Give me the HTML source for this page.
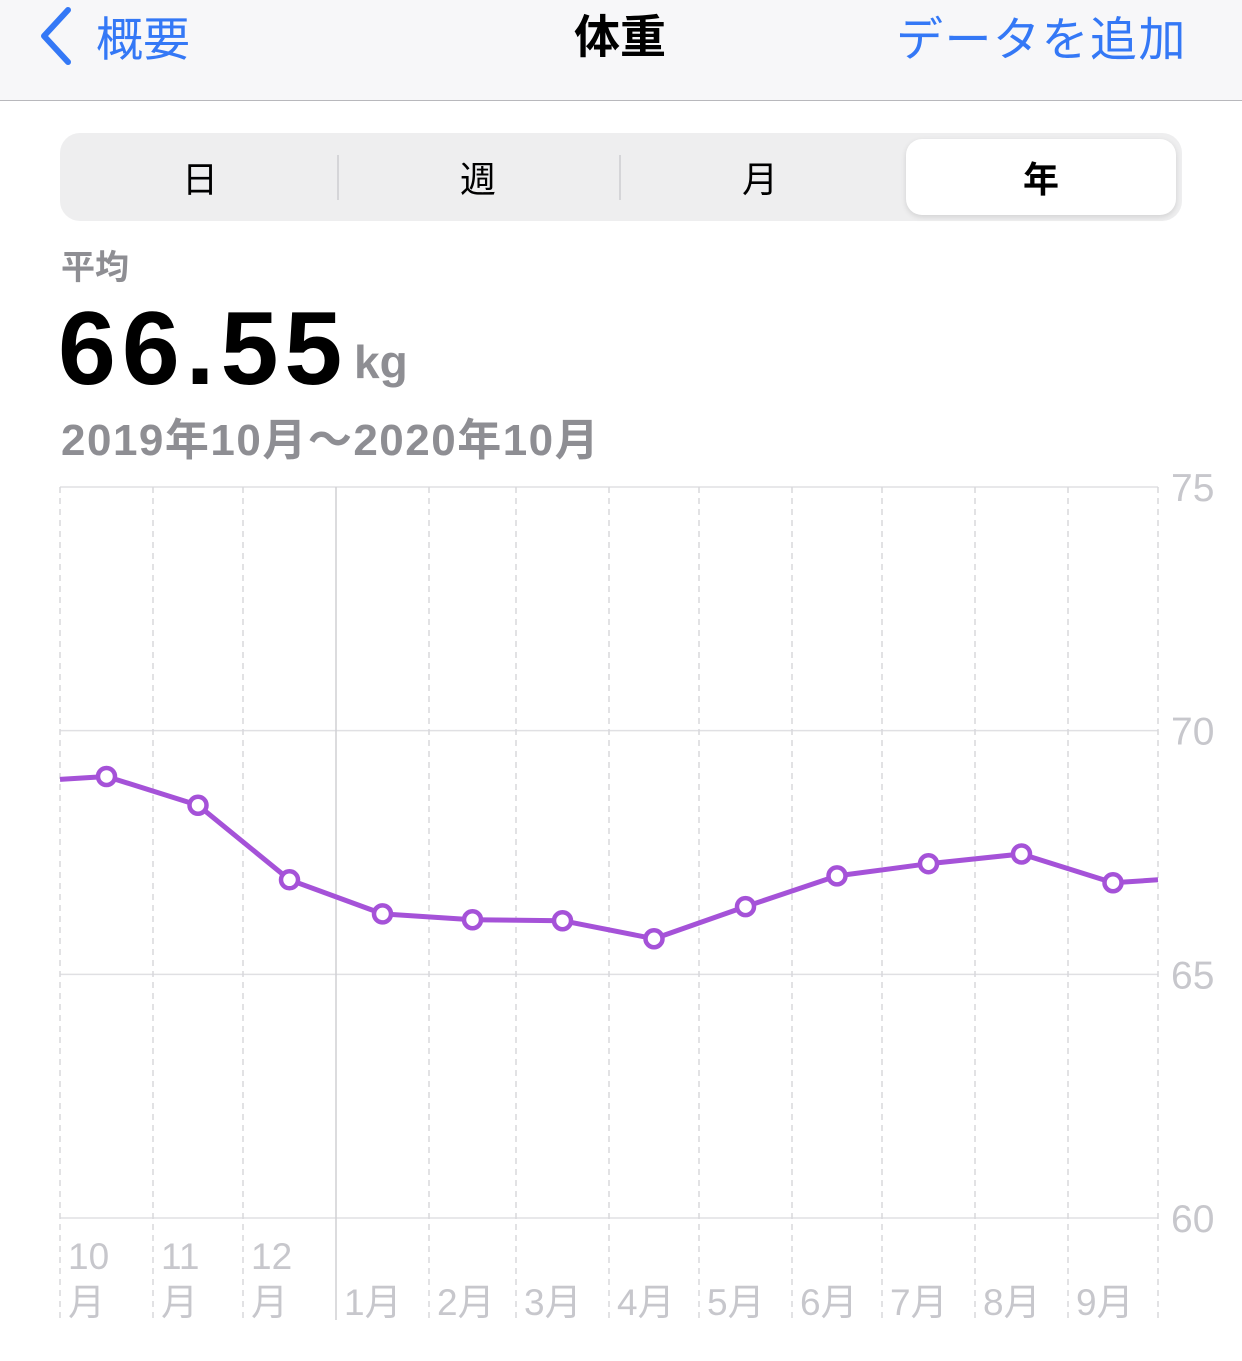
<!DOCTYPE html>
<html><head><meta charset="utf-8">
<style>
body{margin:0;width:1242px;height:1361px;background:#fff;position:relative;overflow:hidden;font-family:"Liberation Sans","Noto Sans CJK JP",sans-serif;}
.abs{position:absolute;white-space:nowrap;}
</style></head><body>
<div class="abs" style="left:0;top:0;width:1242px;height:100px;background:#f7f7f9;border-bottom:1.5px solid #b8b8bc;"></div>
<svg class="abs" style="left:36px;top:4px" width="40" height="62"><polyline points="32,6 8,32 32,58" fill="none" stroke="#3478f6" stroke-width="6" stroke-linecap="round" stroke-linejoin="round"/></svg>
<div class="abs" style="left:96px;top:1px;font-size:47px;color:#3478f6;">概要</div>
<div class="abs" style="left:574px;top:1px;font-size:46px;font-weight:bold;color:#000;">体重</div>
<div class="abs" style="left:896px;top:1px;font-size:47px;letter-spacing:1.5px;color:#3478f6;">データを追加</div>

<div class="abs" style="left:60px;top:133px;width:1122px;height:88px;background:#eeeeef;border-radius:20px;"></div>
<div class="abs" style="left:337px;top:155px;width:2px;height:45px;background:#d5d5d8"></div>
<div class="abs" style="left:619px;top:155px;width:2px;height:45px;background:#d5d5d8"></div>
<div class="abs" style="left:906px;top:139px;width:270px;height:76px;background:#fff;border-radius:16px;box-shadow:0 2px 6px rgba(0,0,0,0.12);"></div>
<div class="abs" style="left:182px;top:151px;font-size:36px;">日</div>
<div class="abs" style="left:460px;top:151px;font-size:36px;">週</div>
<div class="abs" style="left:742px;top:151px;font-size:36px;">月</div>
<div class="abs" style="left:1023px;top:151px;font-size:36px;font-weight:bold;">年</div>

<div class="abs" style="left:61px;top:240px;font-size:34px;font-weight:bold;color:#8e8e93;">平均</div>
<div class="abs" style="left:58px;top:290px;font-size:104px;font-weight:bold;color:#000;letter-spacing:6px;">66.55</div>
<div class="abs" style="left:354px;top:335px;font-size:46px;font-weight:bold;color:#8e8e93;">kg</div>
<div class="abs" style="left:61px;top:404px;font-size:44px;font-weight:bold;color:#8e8e93;letter-spacing:1.5px;">2019年10月～2020年10月</div>

<svg class="abs" style="left:0;top:0" width="1242" height="1361" id="chart"></svg>
<script>
const monthLabels=["10\n月","11\n月","12\n月","1月","2月","3月","4月","5月","6月","7月","8月","9月"];
const monthDays=[31,30,31,31,29,31,30,31,30,31,31,30];
const weights=[69.06,68.47,66.94,66.24,66.12,66.10,65.73,66.39,67.02,67.27,67.47,66.88];
const startWeight=69.0, endWeight=66.94;
const yTicks=[75,70,65,60];
const NS="http://www.w3.org/2000/svg";
const svg=document.getElementById('chart');
const X0=60,X1=1158,Y75=487,Y60=1218;
const totalDays=monthDays.reduce((a,b)=>a+b,0);
const xd=d=>X0+(X1-X0)*d/totalDays;
const y=v=>Y60-(v-60)*(Y60-Y75)/15;
function mk(t,a){const e=document.createElementNS(NS,t);for(const k in a)e.setAttribute(k,a[k]);svg.appendChild(e);return e;}
yTicks.forEach(t=>{
 const l=mk('line',{x1:X0,x2:X1,y1:y(t),y2:y(t),stroke:'#e0e0e3','stroke-width':1.5});
 
 
 const tx=mk('text',{x:1171,y:y(t)+14,'font-size':39,fill:'#c7c7cc','font-family':'Liberation Sans, sans-serif'});
 tx.textContent=t;
 
 
});
let cum=0;const mids=[];
for(let i=0;i<=monthDays.length;i++){
 const x=xd(cum);
 const solid=(i===3);
 const l=mk('line',{x1:x,x2:x,y1:Y75,y2:1320,stroke:solid?'#d0d0d4':'#d8d8dc','stroke-width':1.5,'stroke-dasharray':solid?'':'6,5'});
 
 
 if(i<monthDays.length){
  mids.push(xd(cum+monthDays[i]/2));
  const parts=monthLabels[i].split('\n');
  parts.forEach((p,j)=>{
   const tx=mk('text',{x:x+8,y:parts.length>1?1269+j*46:1315,'font-size':37,fill:'#c7c7cc','font-family':'Liberation Sans, Noto Sans CJK JP, sans-serif'});
   tx.textContent=p;
   
   
  });
  cum+=monthDays[i];
 }
}
const pts=[[X0,y(startWeight)]].concat(weights.map((w,i)=>[mids[i],y(w)])).concat([[X1,y(endWeight)]]);
const pl=mk('polyline',{points:pts.map(p=>p.join(',')).join(' '),fill:'none',stroke:'#a552d8','stroke-width':5,'stroke-linejoin':'round'});


weights.forEach((w,i)=>{
 const c=mk('circle',{cx:mids[i],cy:y(w),r:8.5,fill:'#fff',stroke:'#a552d8','stroke-width':4.5});
 
 
});
</script>
</body></html>
